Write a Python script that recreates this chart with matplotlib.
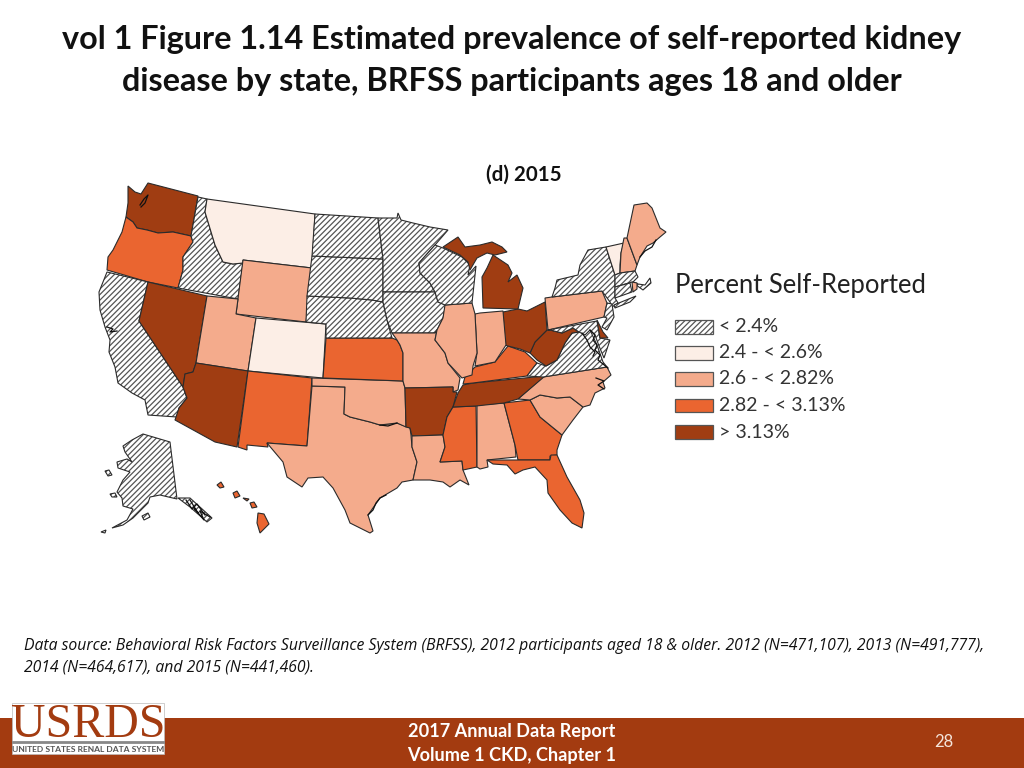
import matplotlib
matplotlib.use("Agg")
import matplotlib.pyplot as plt
from matplotlib.patches import Polygon, Rectangle

plt.rcParams['font.family'] = ['Lato', 'DejaVu Sans']
plt.rcParams['hatch.linewidth'] = 0.9

# legend classes
class_labels = ['< 2.4%', '2.4 - < 2.6%', '2.6 - < 2.82%', '2.82 - < 3.13%', '> 3.13%']
class_colors = ['white', '#FCEEE6', '#F4AB8C', '#EA6530', '#A03D12']

# class index of each state for 2015
state_class = {
    'WA': 4, 'OR': 3, 'CA': 0, 'NV': 4, 'ID': 0, 'MT': 1, 'WY': 2, 'UT': 2, 'CO': 1, 'AZ': 4,
    'NM': 3, 'TX': 2, 'OK': 2, 'KS': 3, 'NE': 0, 'SD': 0, 'ND': 0, 'MN': 0, 'IA': 0, 'MO': 2,
    'AR': 4, 'LA': 2, 'MS': 3, 'AL': 2, 'GA': 3, 'FL': 3, 'SC': 2, 'NC': 2, 'TN': 4, 'KY': 3,
    'VA': 0, 'WV': 4, 'OH': 4, 'IN': 2, 'IL': 2, 'WI': 0, 'MI': 4, 'MI2': 4, 'PA': 2, 'NY': 0,
    'LI': 0, 'VT': 1, 'NH': 2, 'ME': 2, 'MA': 0, 'CT': 0, 'RI': 2, 'NJ': 0, 'DE': 4, 'MD': 0,
    'AK': 0, 'AK2': 0, 'AK3': 0, 'AK4': 0, 'AK5': 0, 'AK6': 0,
    'HI1': 3, 'HI2': 3, 'HI3': 3, 'HI4': 3, 'HI5': 3,
}

# state outlines, in image pixels
outlines = {
    'WA': [(128,186),(135,192),(141,194),(148,183),(198,196),(191,236),(173,232),(158,233),(147,230),(137,228),(133,222),(126,217),(128,203)],
    'OR': [(126,217),(133,222),(137,228),(147,230),(158,233),(173,232),(191,236),(193,242),(183,257),(183,270),(178,288),(148,282),(107,270),(108,257),(113,250),(122,232)],
    'CA': [(107,272),(148,282),(139,321),(183,387),(187,398),(179,408),(177,417),(148,415),(145,400),(132,393),(118,383),(115,367),(109,352),(110,340),(105,327),(100,310),(99,292),(103,282)],
    'NV': [(148,282),(207,296),(196,363),(193,372),(185,374),(183,387),(139,321)],
    'ID': [(198,197),(207,199),(205,212),(215,245),(223,262),(233,264),(243,263),(238,299),(178,288),(183,270),(183,257),(193,242),(191,236)],
    'MT': [(207,199),(315,214),(312,268),(243,260),(243,263),(233,264),(223,262),(215,245),(205,212)],
    'WY': [(243,260),(312,268),(306,322),(236,314)],
    'UT': [(207,296),(238,299),(236,314),(256,318),(248,371),(196,363)],
    'CO': [(256,318),(326,324),(323,378),(248,371)],
    'AZ': [(196,363),(248,371),(237,447),(215,442),(175,420),(179,408),(187,398),(183,387),(185,374),(193,372)],
    'NM': [(248,371),(312,378),(307,446),(267,443),(268,447),(247,445),(247,450),(238,447)],
    'TX': [(312,386),(345,387),(344,414),(350,417),(370,422),(380,425),(397,423),(410,428),(411,435),(412,447),(417,462),(413,480),(402,482),(397,488),(380,498),(368,515),(373,531),(370,533),(350,523),(345,510),(333,488),(323,477),(308,478),(302,487),(287,477),(283,462),(267,443),(307,446)],
    'OK': [(312,378),(403,381),(405,388),(406,427),(397,423),(380,425),(370,422),(350,417),(344,414),(345,387),(312,386)],
    'KS': [(326,338),(392,338),(397,340),(400,345),(403,353),(403,381),(323,378)],
    'NE': [(307,296),(350,298),(372,300),(383,302),(387,320),(392,338),(326,338),(326,324),(306,322)],
    'SD': [(312,256),(383,259),(383,292),(383,302),(372,300),(350,298),(307,296)],
    'ND': [(315,214),(378,218),(383,259),(312,256)],
    'MN': [(378,218),(397,218),(398,213),(401,220),(413,223),(430,227),(448,230),(435,245),(419,263),(420,273),(430,283),(435,292),(383,292),(383,259)],
    'IA': [(383,292),(435,292),(438,302),(446,305),(443,318),(437,330),(435,333),(392,333),(387,320),(383,302)],
    'MO': [(392,333),(435,333),(437,330),(435,340),(445,353),(448,363),(460,378),(458,390),(453,392),(453,387),(405,388),(403,381),(403,353),(400,345),(397,340)],
    'AR': [(405,388),(453,387),(453,392),(457,392),(453,407),(447,417),(443,435),(412,436),(410,428),(406,427)],
    'LA': [(412,436),(443,435),(445,447),(440,462),(462,461),(463,470),(469,485),(460,480),(450,487),(443,482),(430,480),(413,480),(417,462),(412,447)],
    'MS': [(453,407),(476,406),(477,467),(463,470),(462,461),(440,462),(445,447),(443,435),(447,417)],
    'AL': [(477,405),(504,403),(515,445),(516,457),(487,460),(488,467),(480,469),(477,467)],
    'GA': [(504,403),(530,400),(540,417),(562,435),(557,450),(557,455),(550,456),(550,460),(518,460),(515,445)],
    'FL': [(487,460),(518,460),(550,460),(551,455),(557,455),(567,477),(580,500),(584,513),(582,528),(572,523),(560,510),(548,493),(547,480),(535,467),(523,470),(515,474),(507,465),(493,464)],
    'SC': [(530,400),(540,395),(557,398),(570,397),(583,407),(573,420),(562,435),(540,417)],
    'NC': [(518,399),(543,377),(607,367),(611,375),(603,382),(605,388),(595,393),(590,405),(583,407),(570,397),(557,398),(540,395),(530,400)],
    'TN': [(453,407),(458,393),(463,385),(473,383),(545,376),(518,399),(504,403),(476,406)],
    'KY': [(463,384),(465,377),(475,367),(495,362),(508,346),(525,352),(537,363),(527,376),(473,383)],
    'VA': [(527,376),(537,363),(546,366),(557,360),(565,343),(572,333),(580,332),(590,330),(597,345),(603,362),(607,367),(543,377)],
    'WV': [(530,353),(535,342),(547,330),(550,330),(562,333),(573,328),(579,332),(572,333),(565,343),(557,360),(546,366),(537,360)],
    'OH': [(503,312),(518,309),(527,311),(545,302),(547,330),(535,342),(530,353),(520,349),(508,346),(505,345)],
    'IN': [(475,314),(480,313),(503,311),(506,345),(495,362),(475,366),(477,353)],
    'IL': [(445,305),(472,303),(475,314),(477,353),(473,366),(472,375),(462,378),(448,363),(445,353),(435,340),(437,330),(443,318)],
    'WI': [(435,245),(443,248),(462,257),(470,265),(468,275),(476,266),(472,303),(445,305),(438,302),(435,292),(430,283),(420,273),(419,263)],
    'MI': [(483,308),(482,277),(487,268),(493,255),(508,265),(512,273),(508,282),(517,275),(523,288),(518,309)],
    'MI2': [(443,247),(458,237),(465,247),(480,245),(492,242),(502,247),(507,252),(495,255),(487,253),(477,258),(470,270),(468,262),(460,255)],
    'PA': [(545,298),(552,297),(602,291),(607,303),(604,317),(548,330)],
    'NY': [(552,297),(555,288),(557,280),(578,275),(580,265),(588,250),(606,247),(615,275),(615,298),(618,303),(612,307),(610,302),(602,291)],
    'LI': [(614,305),(636,296),(630,302),(615,308)],
    'VT': [(606,247),(624,243),(621,253),(620,265),(620,273),(615,275)],
    'NH': [(624,238),(627,238),(637,265),(635,271),(620,273),(621,253)],
    'ME': [(627,238),(634,205),(647,203),(652,208),(660,228),(666,232),(660,237),(653,243),(647,246),(640,257),(637,265)],
    'MA': [(615,275),(620,273),(635,271),(638,277),(633,282),(638,284),(645,285),(650,278),(651,283),(643,290),(632,282),(615,287)],
    'CT': [(615,287),(630,283),(632,292),(615,298)],
    'RI': [(632,282),(637,283),(637,289),(633,292)],
    'NJ': [(607,303),(612,304),(614,317),(607,330),(602,327),(607,318),(604,317)],
    'MD': [(548,330),(597,321),(600,338),(610,340),(604,358),(599,346),(595,335),(590,330),(585,335),(579,332),(573,328),(562,333),(550,330)],
    'DE': [(597,320),(603,332),(608,338),(600,338)],
    'AK': [(123,446),(132,440),(143,434),(170,442),(177,499),(160,495),(150,497),(148,503),(143,508),(133,518),(123,525),(112,528),(127,520),(133,509),(123,506),(122,498),(117,492),(123,480),(130,472),(118,468),(117,462),(127,459),(132,462),(125,452)],
    'AK2': [(178,498),(190,498),(212,518),(207,522),(190,507)],
    'AK3': [(142,516),(148,513),(150,517),(144,520)],
    'AK4': [(105,471),(109,470),(112,475),(108,476)],
    'AK5': [(110,494),(115,493),(117,497),(112,497)],
    'AK6': [(101,532),(106,530),(105,533)],
    'HI1': [(217,485),(221,482),(224,487),(220,488)],
    'HI2': [(233,493),(237,491),(240,496),(235,498)],
    'HI3': [(243,498),(249,499),(247,501)],
    'HI4': [(250,503),(254,502),(257,507),(252,508)],
    'HI5': [(258,513),(264,514),(269,524),(260,533),(257,523)],
}

# coast detail that shows as dark squiggles
coast_lines = [
    [(590,330),(595,335),(593,340),(597,345),(595,350),(600,355),(598,360),(603,364),(608,368)],
    [(582,333),(587,340),(590,347),(595,352),(593,356)],
    [(140,205),(144,199),(148,195),(145,203),(141,207)],
    [(190,500),(198,513),(194,508),(204,520),(200,511),(210,517)],
    [(186,500),(192,509),(197,504),(205,515)],
    [(107,327),(113,329),(110,332),(117,331)],
    [(368,515),(373,510),(376,503),(380,498),(386,495)],
    [(640,257),(645,251),(652,247),(656,240)],
    [(596,378),(604,381),(598,385),(604,389)],
    [(380,425),(388,426),(397,423)],
]

def draw_state(ax, pts, cls):
    if cls == 0:
        ax.add_patch(Polygon(pts, closed=True, facecolor='white', edgecolor='#555555', hatch='//////', lw=0))
    else:
        ax.add_patch(Polygon(pts, closed=True, facecolor=class_colors[cls], edgecolor='none'))
    ax.add_patch(Polygon(pts, closed=True, facecolor='none', edgecolor='#2b2b2b', lw=0.8))

fig = plt.figure(figsize=(10.24, 7.68), dpi=100)
ax = fig.add_axes([0, 0, 1, 1])
ax.set_xlim(0, 1024)
ax.set_ylim(768, 0)
ax.axis('off')

# title
ax.text(512, 40, 'vol 1 Figure 1.14 Estimated prevalence of self-reported kidney', ha='center', va='center', fontsize=23.3, fontweight='bold', color='#111111')
ax.text(512, 82, 'disease by state, BRFSS participants ages 18 and older', ha='center', va='center', fontsize=23.3, fontweight='bold', color='#111111')
ax.text(523.5, 175, '(d) 2015', ha='center', va='center', fontsize=14.8, fontweight='bold', color='#111111')

# map
for name, pts in outlines.items():
    draw_state(ax, pts, state_class[name])
for line in coast_lines:
    ax.plot([p[0] for p in line], [p[1] for p in line], color='#111111', lw=0.9)

# legend
ax.text(675, 285, 'Percent Self-Reported', ha='left', va='center', fontsize=18.45, color='#222222')
legend_y = [320, 346, 372, 398.5, 425]
for y, lab, col in zip(legend_y, class_labels, class_colors):
    ax.add_patch(Rectangle((675, y), 38, 13.5, facecolor=col, edgecolor='#555555', lw=0.9,
                           hatch='//////' if col == 'white' else None))
    ax.text(719, y + 7, lab, ha='left', va='center', fontsize=14, color='#333333')

# data source note
ax.text(24, 646, 'Data source: Behavioral Risk Factors Surveillance System (BRFSS), 2012 participants aged 18 & older. 2012 (N=471,107), 2013 (N=491,777),',
        ha='left', va='center', fontsize=11.33, style='italic', family='Open Sans', color='#111111')
ax.text(24, 667, '2014 (N=464,617), and 2015 (N=441,460).', ha='left', va='center', fontsize=11.33, style='italic', family='Open Sans', color='#111111')

# footer band and logo
ax.add_patch(Rectangle((0, 718), 1024, 50, facecolor='#A33B10', edgecolor='none'))
ax.add_patch(Rectangle((12, 703), 152, 51, facecolor='white', edgecolor='#bbbbbb', lw=0.5))
ax.text(88.5, 737, 'USRDS', ha='center', va='baseline', fontsize=34.5, family='Liberation Serif', color='#A33B10')
ax.plot([13, 163], [741.5, 741.5], color='#888888', lw=2)
ax.text(88.5, 750, 'UNITED STATES RENAL DATA SYSTEM', ha='center', va='center', fontsize=6.1, fontweight='bold', color='#555555')
ax.text(512, 731, '2017 Annual Data Report', ha='center', va='center', fontsize=13.1, fontweight='bold', color='white')
ax.text(512, 755, 'Volume 1 CKD, Chapter 1', ha='center', va='center', fontsize=13.1, fontweight='bold', color='white')
ax.text(944, 742, '28', ha='center', va='center', fontsize=12, color='#F4E4DA')

fig.savefig('out.png', dpi=100)
